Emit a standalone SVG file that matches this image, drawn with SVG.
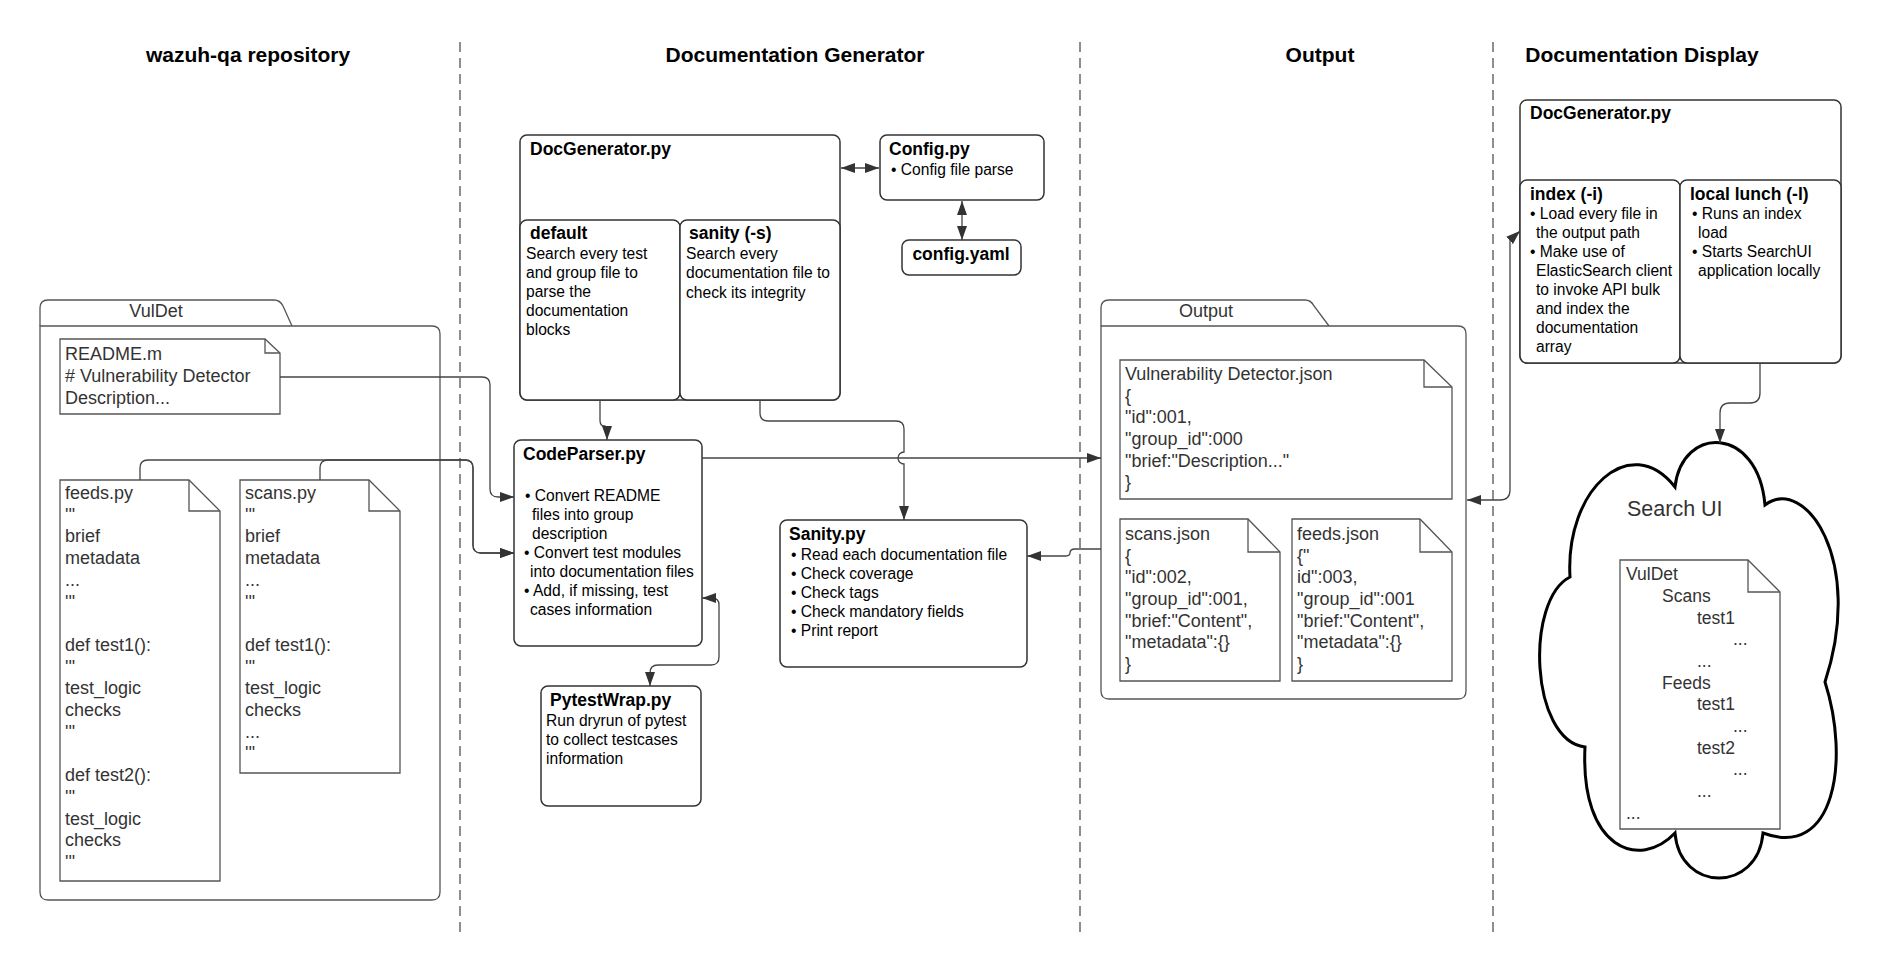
<svg xmlns="http://www.w3.org/2000/svg" width="1895" height="980" viewBox="0 0 1895 980">
<style>
.box{fill:#fff;stroke:#333;stroke-width:1.5}
.note{fill:#fff;stroke:#555;stroke-width:1.3}
.fold{fill:none;stroke:#555;stroke-width:1.3}
.conn{fill:none;stroke:#444;stroke-width:1.3}
.dash{stroke:#444;stroke-width:1.2;stroke-dasharray:10 6}
text{font-family:"Liberation Sans",Arial,sans-serif}
.h{font-size:21px;font-weight:bold;text-anchor:middle;fill:#000}
.bt{font-size:17.5px;font-weight:bold;fill:#000}
.bd{font-size:15.6px;fill:#000}
.nt{font-size:18px;fill:#333}
.ct{font-size:17.5px;fill:#333}
</style>
<defs>
<marker id="ah" viewBox="0 0 14 10" refX="14" refY="5" markerWidth="14" markerHeight="10" markerUnits="userSpaceOnUse" orient="auto-start-reverse">
<path d="M0,0 L14,5 L0,10 z" fill="#333"/>
</marker>
</defs>
<rect width="1895" height="980" fill="#fff"/>

<g id="lanes">
<line class="dash" x1="460" y1="42" x2="460" y2="933"/>
<line class="dash" x1="1080" y1="42" x2="1080" y2="933"/>
<line class="dash" x1="1493" y1="42" x2="1493" y2="933"/>
<text class="h" x="248" y="62">wazuh-qa repository</text>
<text class="h" x="795" y="62">Documentation Generator</text>
<text class="h" x="1320" y="62">Output</text>
<text class="h" x="1642" y="62">Documentation Display</text>
</g>

<g id="vuldet-folder">
<path class="note" d="M40,326 V308 Q40,300 48,300 H274 Q280,300 283,306 L292,326"/>
<path class="note" d="M40,326 H432 Q440,326 440,334 V892 Q440,900 432,900 H48 Q40,900 40,892 Z"/>
<text class="nt" x="156" y="317" text-anchor="middle">VulDet</text>
</g>

<g id="readme">
<path class="note" d="M60,339 H265 L280,353 V414 H60 Z"/>
<path class="fold" d="M265,339 V353 H280"/>
<text class="nt" x="65" y="360">README.m</text>
<text class="nt" x="65" y="382"># Vulnerability Detector</text>
<text class="nt" x="65" y="404">Description...</text>
</g>

<g id="feeds-py">
<path class="note" d="M60,480 H189 L220,511 V881 H60 Z"/>
<path class="fold" d="M189,480 V511 H220"/>
<text class="nt" x="65" y="499">feeds.py</text>
<text class="nt" x="65" y="521">'''</text>
<text class="nt" x="65" y="542">brief</text>
<text class="nt" x="65" y="564">metadata</text>
<text class="nt" x="65" y="586">...</text>
<text class="nt" x="65" y="608">'''</text>
<text class="nt" x="65" y="651">def test1():</text>
<text class="nt" x="65" y="673">'''</text>
<text class="nt" x="65" y="694">test_logic</text>
<text class="nt" x="65" y="716">checks</text>
<text class="nt" x="65" y="738">'''</text>
<text class="nt" x="65" y="781">def test2():</text>
<text class="nt" x="65" y="803">'''</text>
<text class="nt" x="65" y="825">test_logic</text>
<text class="nt" x="65" y="846">checks</text>
<text class="nt" x="65" y="868">'''</text>
</g>

<g id="scans-py">
<path class="note" d="M240,480 H369 L400,511 V773 H240 Z"/>
<path class="fold" d="M369,480 V511 H400"/>
<text class="nt" x="245" y="499">scans.py</text>
<text class="nt" x="245" y="521">'''</text>
<text class="nt" x="245" y="542">brief</text>
<text class="nt" x="245" y="564">metadata</text>
<text class="nt" x="245" y="586">...</text>
<text class="nt" x="245" y="608">'''</text>
<text class="nt" x="245" y="651">def test1():</text>
<text class="nt" x="245" y="673">'''</text>
<text class="nt" x="245" y="694">test_logic</text>
<text class="nt" x="245" y="716">checks</text>
<text class="nt" x="245" y="738">...</text>
<text class="nt" x="245" y="759">'''</text>
</g>

<g id="docgenerator">
<rect class="box" x="520" y="135" width="320" height="265" rx="7"/>
<text class="bt" x="530" y="155">DocGenerator.py</text>
</g>
<g id="default">
<rect class="box" x="520" y="220" width="160" height="180" rx="7"/>
<text class="bt" x="530" y="239">default</text>
<text class="bd" x="526" y="259">Search every test</text>
<text class="bd" x="526" y="278">and group file to</text>
<text class="bd" x="526" y="297">parse the</text>
<text class="bd" x="526" y="316">documentation</text>
<text class="bd" x="526" y="335">blocks</text>
</g>
<g id="sanity-s">
<rect class="box" x="680" y="220" width="160" height="180" rx="7"/>
<text class="bt" x="689" y="239">sanity (-s)</text>
<text class="bd" x="686" y="259">Search every</text>
<text class="bd" x="686" y="278">documentation file to</text>
<text class="bd" x="686" y="298">check its integrity</text>
</g>

<g id="config-py">
<rect class="box" x="880" y="135" width="164" height="65" rx="7"/>
<text class="bt" x="889" y="155">Config.py</text>
<text class="bd" x="891" y="175">• Config file parse</text>
</g>
<g id="config-yaml">
<rect class="box" x="902" y="240" width="119" height="35" rx="7"/>
<text class="bt" x="961" y="260" text-anchor="middle">config.yaml</text>
</g>

<g id="codeparser">
<rect class="box" x="514" y="440" width="188" height="206" rx="7"/>
<text class="bt" x="523" y="460">CodeParser.py</text>
<text class="bd" x="525" y="501">• Convert README</text>
<text class="bd" x="532" y="520">files into group</text>
<text class="bd" x="532" y="539">description</text>
<text class="bd" x="524" y="558">• Convert test modules</text>
<text class="bd" x="530" y="577">into documentation files</text>
<text class="bd" x="524" y="596">• Add, if missing, test</text>
<text class="bd" x="530" y="615">cases information</text>
</g>

<g id="pytestwrap">
<rect class="box" x="541" y="686" width="160" height="120" rx="7"/>
<text class="bt" x="550" y="706">PytestWrap.py</text>
<text class="bd" x="546" y="726">Run dryrun of pytest</text>
<text class="bd" x="546" y="745">to collect testcases</text>
<text class="bd" x="546" y="764">information</text>
</g>

<g id="sanity-py">
<rect class="box" x="780" y="520" width="247" height="147" rx="7"/>
<text class="bt" x="789" y="540">Sanity.py</text>
<text class="bd" x="791" y="560">• Read each documentation file</text>
<text class="bd" x="791" y="579">• Check coverage</text>
<text class="bd" x="791" y="598">• Check tags</text>
<text class="bd" x="791" y="617">• Check mandatory fields</text>
<text class="bd" x="791" y="636">• Print report</text>
</g>

<g id="output-folder">
<path class="note" d="M1101,326 V308 Q1101,300 1109,300 H1305 Q1311,300 1314,306 L1329,326"/>
<path class="note" d="M1101,326 H1458 Q1466,326 1466,334 V691 Q1466,699 1458,699 H1109 Q1101,699 1101,691 Z"/>
<text class="nt" x="1206" y="317" text-anchor="middle">Output</text>
</g>

<g id="vd-json">
<path class="note" d="M1120,360 H1424 L1452,387 V499 H1120 Z"/>
<path class="fold" d="M1424,360 V387 H1452"/>
<text class="nt" x="1125" y="380">Vulnerability Detector.json</text>
<text class="nt" x="1125" y="402">{</text>
<text class="nt" x="1125" y="423">"id":001,</text>
<text class="nt" x="1125" y="445">"group_id":000</text>
<text class="nt" x="1125" y="467">"brief:"Description..."</text>
<text class="nt" x="1125" y="488">}</text>
</g>

<g id="scans-json">
<path class="note" d="M1120,519 H1248 L1280,552 V681 H1120 Z"/>
<path class="fold" d="M1248,519 V552 H1280"/>
<text class="nt" x="1125" y="540">scans.json</text>
<text class="nt" x="1125" y="562">{</text>
<text class="nt" x="1125" y="583">"id":002,</text>
<text class="nt" x="1125" y="605">"group_id":001,</text>
<text class="nt" x="1125" y="627">"brief:"Content",</text>
<text class="nt" x="1125" y="648">"metadata":{}</text>
<text class="nt" x="1125" y="670">}</text>
</g>

<g id="feeds-json">
<path class="note" d="M1292,519 H1420 L1452,552 V681 H1292 Z"/>
<path class="fold" d="M1420,519 V552 H1452"/>
<text class="nt" x="1297" y="540">feeds.json</text>
<text class="nt" x="1297" y="562">{"</text>
<text class="nt" x="1297" y="583">id":003,</text>
<text class="nt" x="1297" y="605">"group_id":001</text>
<text class="nt" x="1297" y="627">"brief:"Content",</text>
<text class="nt" x="1297" y="648">"metadata":{}</text>
<text class="nt" x="1297" y="670">}</text>
</g>

<g id="display-docgenerator">
<rect class="box" x="1520" y="100" width="321" height="263" rx="7"/>
<text class="bt" x="1530" y="119">DocGenerator.py</text>
</g>
<g id="index-i">
<rect class="box" x="1520" y="180" width="160" height="183" rx="7"/>
<text class="bt" x="1530" y="200">index (-i)</text>
<text class="bd" x="1530" y="219">• Load every file in</text>
<text class="bd" x="1536" y="238">the output path</text>
<text class="bd" x="1530" y="257">• Make use of</text>
<text class="bd" x="1536" y="276">ElasticSearch client</text>
<text class="bd" x="1536" y="295">to invoke API bulk</text>
<text class="bd" x="1536" y="314">and index the</text>
<text class="bd" x="1536" y="333">documentation</text>
<text class="bd" x="1536" y="352">array</text>
</g>
<g id="local-lunch">
<rect class="box" x="1680" y="180" width="161" height="183" rx="7"/>
<text class="bt" x="1690" y="200">local lunch (-l)</text>
<text class="bd" x="1692" y="219">• Runs an index</text>
<text class="bd" x="1698" y="238">load</text>
<text class="bd" x="1692" y="257">• Starts SearchUI</text>
<text class="bd" x="1698" y="276">application locally</text>
</g>

<g id="search-ui">
<path fill="#fff" stroke="#000" stroke-width="3" d="M1675,487 C1682,425 1758,425 1765,505 C1805,475 1865,560 1825,682 C1850,760 1835,860 1763,833 C1758,893 1680,893 1675,833 C1640,870 1580,850 1585,747 C1530,740 1525,600 1570,577 C1565,490 1630,430 1675,487 Z"/>
<text x="1627" y="516" font-size="21.5" fill="#333">Search UI</text>
<path class="note" d="M1620,560 H1748 L1780,592 V829 H1620 Z"/>
<path class="fold" d="M1748,560 V592 H1780"/>
<text class="ct" x="1626" y="580">VulDet</text>
<text class="ct" x="1662" y="602">Scans</text>
<text class="ct" x="1697" y="624">test1</text>
<text class="ct" x="1733" y="645">...</text>
<text class="ct" x="1697" y="667">...</text>
<text class="ct" x="1662" y="689">Feeds</text>
<text class="ct" x="1697" y="710">test1</text>
<text class="ct" x="1733" y="732">...</text>
<text class="ct" x="1697" y="754">test2</text>
<text class="ct" x="1733" y="775">...</text>
<text class="ct" x="1697" y="797">...</text>
<text class="ct" x="1626" y="819">...</text>
</g>

<g id="connectors">
<path class="conn" marker-end="url(#ah)" d="M280,377 H482 Q490,377 490,385 V489 Q490,497 498,497 H514"/>
<path class="conn" marker-end="url(#ah)" d="M140,480 V468 Q140,460 148,460 H465 Q473,460 473,468 V545 Q473,553 481,553 H514"/>
<path class="conn" marker-end="url(#ah)" d="M320,480 V468 Q320,460 328,460 H465 Q473,460 473,468 V545 Q473,553 481,553 H514"/>
<path class="conn" marker-end="url(#ah)" d="M600,400 V420 Q600,426 604,426 Q607,426 607,431 V440"/>
<path class="conn" marker-start="url(#ah)" marker-end="url(#ah)" d="M841,168 H879"/>
<path class="conn" marker-start="url(#ah)" marker-end="url(#ah)" d="M962,201 V240"/>
<path class="conn" marker-start="url(#ah)" marker-end="url(#ah)" d="M702,598 H712 Q719,598 719,605 V657 Q719,665 711,665 H658 Q650,665 650,673 V686"/>
<path class="conn" marker-end="url(#ah)" d="M760,400 V413 Q760,421 768,421 H896 Q904,421 904,429 V452 A6,6 0 0 0 904,464 V520"/>
<path class="conn" marker-end="url(#ah)" d="M702,458 H1101"/>
<path class="conn" marker-end="url(#ah)" d="M1101,549 H1075 Q1070,549 1070,553 Q1070,556 1065,556 H1027"/>
<path class="conn" marker-start="url(#ah)" marker-end="url(#ah)" d="M1520,231 L1510,240 V490 Q1510,500 1500,500 H1467"/>
<path class="conn" marker-end="url(#ah)" d="M1760,363 V393 Q1760,403 1750,403 H1730 Q1720,403 1720,413 V443"/>
</g>
</svg>
